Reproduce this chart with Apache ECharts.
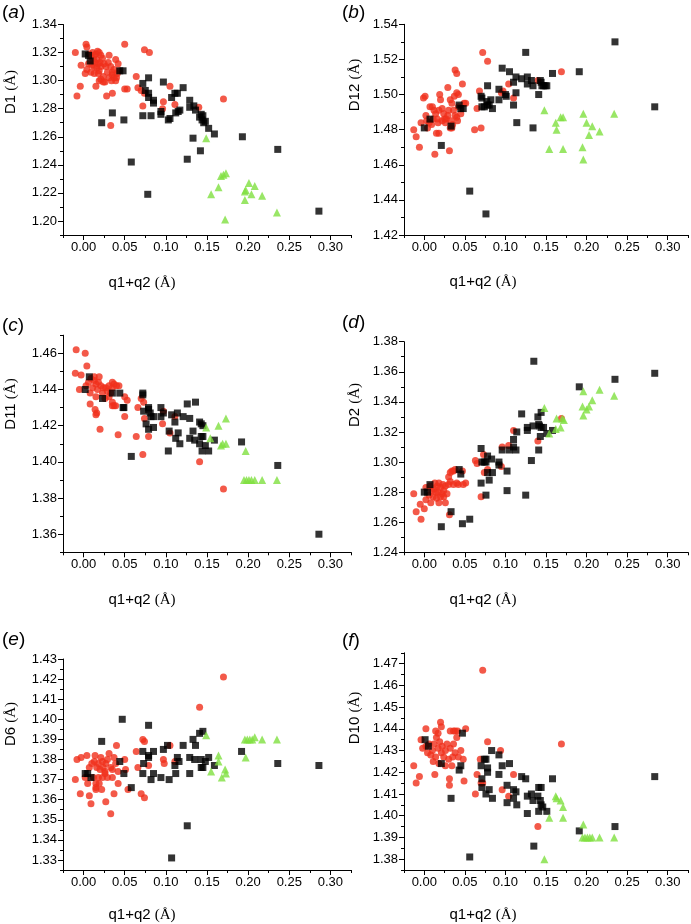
<!DOCTYPE html>
<html><head><meta charset="utf-8">
<script src="https://cdn.jsdelivr.net/npm/echarts@6/dist/echarts.min.js"></script>
<style>html,body{margin:0;padding:0;background:#fff}#c{width:691px;height:924px}</style>
</head><body><div id="c"></div>
<script>
// ---------- tick labels ----------
const xTicks = [0.00,0.05,0.10,0.15,0.20,0.25,0.30];
const aYTicks = [1.20,1.22,1.24,1.26,1.28,1.30,1.32,1.34];
const bYTicks = [1.42,1.44,1.46,1.48,1.50,1.52,1.54];
const cYTicks = [1.36,1.38,1.40,1.42,1.44,1.46];
const dYTicks = [1.24,1.26,1.28,1.30,1.32,1.34,1.36,1.38];
const eYTicks = [1.33,1.34,1.35,1.36,1.37,1.38,1.39,1.40,1.41,1.42,1.43];
const fYTicks = [1.38,1.39,1.40,1.41,1.42,1.43,1.44,1.45,1.46,1.47];

// ---------- data: [q1+q2, distance] ----------
const aRed = [[-0.010,1.320],[-0.008,1.289],[-0.004,1.296],[-0.003,1.311],[0.002,1.305],[0.003,1.326],[0.004,1.324],[0.004,1.308],[0.006,1.312],[0.007,1.319],[0.009,1.317],[0.009,1.306],[0.010,1.311],[0.011,1.320],[0.012,1.315],[0.013,1.318],[0.013,1.310],[0.014,1.313],[0.013,1.305],[0.015,1.319],[0.015,1.296],[0.016,1.315],[0.016,1.309],[0.017,1.321],[0.018,1.312],[0.018,1.305],[0.019,1.320],[0.019,1.307],[0.019,1.300],[0.020,1.313],[0.021,1.318],[0.021,1.310],[0.021,1.301],[0.023,1.316],[0.024,1.303],[0.024,1.299],[0.025,1.312],[0.026,1.299],[0.027,1.310],[0.028,1.289],[0.029,1.306],[0.030,1.313],[0.031,1.318],[0.031,1.302],[0.033,1.310],[0.033,1.268],[0.034,1.300],[0.035,1.306],[0.035,1.304],[0.035,1.291],[0.037,1.302],[0.037,1.308],[0.039,1.315],[0.039,1.300],[0.040,1.302],[0.041,1.305],[0.042,1.312],[0.043,1.307],[0.050,1.326],[0.050,1.294],[0.053,1.294],[0.064,1.303],[0.066,1.295],[0.070,1.293],[0.072,1.282],[0.074,1.291],[0.074,1.322],[0.080,1.320],[0.096,1.280],[0.097,1.285],[0.105,1.296],[0.111,1.283],[0.140,1.281],[0.170,1.287]];
const aBlack = [[0.002,1.319],[0.006,1.318],[0.008,1.314],[0.022,1.270],[0.035,1.277],[0.044,1.307],[0.048,1.307],[0.049,1.272],[0.058,1.242],[0.072,1.298],[0.072,1.275],[0.075,1.293],[0.079,1.302],[0.079,1.291],[0.079,1.288],[0.082,1.275],[0.078,1.219],[0.085,1.286],[0.085,1.284],[0.094,1.278],[0.094,1.276],[0.097,1.299],[0.103,1.272],[0.105,1.273],[0.107,1.288],[0.111,1.291],[0.114,1.291],[0.112,1.277],[0.115,1.278],[0.117,1.279],[0.121,1.295],[0.126,1.244],[0.129,1.286],[0.129,1.281],[0.133,1.259],[0.134,1.282],[0.136,1.279],[0.141,1.274],[0.142,1.250],[0.143,1.276],[0.144,1.272],[0.145,1.275],[0.146,1.270],[0.148,1.271],[0.152,1.266],[0.159,1.262],[0.193,1.260],[0.236,1.251],[0.286,1.207]];
const aGreen = [[0.149,1.259],[0.155,1.219],[0.164,1.224],[0.167,1.232],[0.170,1.233],[0.173,1.234],[0.172,1.201],[0.196,1.221],[0.197,1.222],[0.196,1.215],[0.201,1.227],[0.204,1.219],[0.208,1.225],[0.217,1.218],[0.235,1.206]];

const bRed = [[-0.013,1.480],[-0.010,1.476],[-0.006,1.470],[-0.004,1.484],[-0.001,1.498],[0.001,1.499],[0.002,1.488],[0.003,1.485],[0.004,1.481],[0.006,1.484],[0.007,1.493],[0.009,1.483],[0.010,1.493],[0.011,1.486],[0.012,1.491],[0.013,1.466],[0.014,1.489],[0.015,1.478],[0.016,1.486],[0.017,1.484],[0.018,1.478],[0.018,1.491],[0.019,1.500],[0.020,1.497],[0.022,1.492],[0.022,1.485],[0.024,1.489],[0.025,1.486],[0.026,1.484],[0.027,1.486],[0.029,1.488],[0.029,1.504],[0.030,1.491],[0.031,1.468],[0.032,1.497],[0.032,1.481],[0.033,1.485],[0.034,1.495],[0.034,1.481],[0.035,1.483],[0.036,1.491],[0.037,1.499],[0.038,1.488],[0.038,1.514],[0.040,1.487],[0.040,1.501],[0.040,1.512],[0.041,1.485],[0.042,1.500],[0.042,1.493],[0.045,1.489],[0.047,1.506],[0.049,1.495],[0.051,1.495],[0.062,1.480],[0.065,1.492],[0.068,1.502],[0.070,1.481],[0.072,1.524],[0.078,1.519],[0.095,1.501],[0.097,1.502],[0.104,1.506],[0.110,1.498],[0.140,1.508],[0.169,1.513]];
const bBlack = [[0.000,1.481],[0.007,1.486],[0.021,1.471],[0.033,1.482],[0.043,1.494],[0.045,1.492],[0.048,1.492],[0.056,1.445],[0.070,1.499],[0.071,1.498],[0.071,1.493],[0.074,1.493],[0.077,1.496],[0.078,1.505],[0.076,1.432],[0.078,1.494],[0.080,1.494],[0.082,1.497],[0.084,1.492],[0.092,1.497],[0.092,1.503],[0.096,1.515],[0.100,1.500],[0.101,1.499],[0.105,1.513],[0.110,1.507],[0.110,1.494],[0.113,1.510],[0.113,1.501],[0.114,1.484],[0.120,1.509],[0.125,1.524],[0.127,1.510],[0.127,1.506],[0.132,1.508],[0.134,1.505],[0.134,1.481],[0.141,1.500],[0.143,1.508],[0.144,1.507],[0.145,1.505],[0.147,1.505],[0.149,1.505],[0.151,1.505],[0.158,1.512],[0.191,1.513],[0.235,1.530],[0.284,1.493]];
const bGreen = [[0.148,1.491],[0.154,1.469],[0.162,1.484],[0.163,1.480],[0.168,1.487],[0.171,1.487],[0.171,1.469],[0.196,1.489],[0.195,1.470],[0.196,1.463],[0.200,1.484],[0.203,1.477],[0.207,1.482],[0.216,1.479],[0.234,1.489]];

const cRed = [[-0.010,1.449],[-0.009,1.462],[-0.005,1.440],[-0.003,1.448],[0.002,1.460],[0.003,1.442],[0.004,1.453],[0.006,1.444],[0.008,1.438],[0.008,1.432],[0.009,1.446],[0.011,1.441],[0.013,1.445],[0.013,1.447],[0.014,1.429],[0.015,1.443],[0.015,1.436],[0.015,1.426],[0.016,1.427],[0.017,1.440],[0.018,1.444],[0.019,1.447],[0.020,1.418],[0.021,1.442],[0.023,1.438],[0.024,1.441],[0.026,1.435],[0.027,1.441],[0.029,1.439],[0.031,1.442],[0.031,1.436],[0.033,1.438],[0.035,1.441],[0.035,1.444],[0.035,1.431],[0.035,1.433],[0.037,1.443],[0.037,1.431],[0.039,1.431],[0.040,1.442],[0.042,1.415],[0.043,1.442],[0.050,1.436],[0.050,1.425],[0.053,1.434],[0.064,1.414],[0.066,1.430],[0.070,1.435],[0.072,1.404],[0.073,1.433],[0.074,1.424],[0.079,1.414],[0.096,1.421],[0.097,1.428],[0.105,1.416],[0.111,1.425],[0.141,1.400],[0.170,1.385]];
const cBlack = [[0.002,1.440],[0.007,1.447],[0.023,1.435],[0.035,1.438],[0.044,1.438],[0.048,1.430],[0.049,1.430],[0.058,1.403],[0.072,1.438],[0.072,1.437],[0.073,1.428],[0.076,1.421],[0.079,1.418],[0.079,1.430],[0.079,1.429],[0.081,1.427],[0.082,1.425],[0.085,1.425],[0.085,1.419],[0.094,1.430],[0.094,1.425],[0.097,1.427],[0.103,1.406],[0.104,1.417],[0.107,1.426],[0.111,1.422],[0.112,1.413],[0.114,1.427],[0.115,1.416],[0.117,1.410],[0.121,1.425],[0.126,1.432],[0.129,1.424],[0.129,1.413],[0.133,1.417],[0.135,1.412],[0.136,1.433],[0.141,1.422],[0.143,1.421],[0.145,1.420],[0.141,1.410],[0.143,1.414],[0.145,1.414],[0.144,1.406],[0.148,1.409],[0.152,1.406],[0.159,1.412],[0.192,1.411],[0.236,1.398],[0.286,1.360]];
const cGreen = [[0.149,1.419],[0.154,1.413],[0.164,1.420],[0.167,1.409],[0.169,1.410],[0.173,1.424],[0.173,1.410],[0.197,1.406],[0.195,1.390],[0.198,1.390],[0.201,1.390],[0.204,1.390],[0.208,1.390],[0.217,1.390],[0.235,1.390]];

const dRed = [[-0.013,1.279],[-0.010,1.267],[-0.005,1.272],[-0.004,1.262],[0.000,1.269],[0.002,1.283],[0.002,1.275],[0.006,1.278],[0.007,1.284],[0.008,1.273],[0.009,1.281],[0.011,1.277],[0.012,1.282],[0.013,1.286],[0.014,1.280],[0.015,1.276],[0.016,1.284],[0.017,1.280],[0.018,1.286],[0.018,1.273],[0.020,1.283],[0.020,1.277],[0.022,1.279],[0.023,1.285],[0.024,1.281],[0.024,1.277],[0.026,1.284],[0.026,1.273],[0.028,1.279],[0.030,1.285],[0.030,1.290],[0.031,1.265],[0.032,1.287],[0.032,1.293],[0.034,1.294],[0.036,1.294],[0.036,1.285],[0.038,1.295],[0.040,1.286],[0.042,1.285],[0.047,1.294],[0.048,1.285],[0.051,1.286],[0.063,1.301],[0.065,1.299],[0.070,1.277],[0.073,1.305],[0.074,1.293],[0.078,1.295],[0.095,1.297],[0.096,1.310],[0.104,1.311],[0.110,1.321],[0.140,1.314],[0.169,1.329]];
const dBlack = [[0.000,1.280],[0.004,1.280],[0.007,1.285],[0.021,1.257],[0.033,1.267],[0.043,1.295],[0.045,1.292],[0.047,1.259],[0.056,1.262],[0.070,1.309],[0.070,1.286],[0.071,1.300],[0.074,1.300],[0.076,1.300],[0.076,1.278],[0.078,1.304],[0.078,1.293],[0.080,1.288],[0.083,1.302],[0.084,1.293],[0.092,1.300],[0.092,1.298],[0.096,1.308],[0.102,1.294],[0.102,1.281],[0.105,1.308],[0.110,1.315],[0.110,1.310],[0.113,1.308],[0.114,1.320],[0.120,1.332],[0.125,1.278],[0.127,1.323],[0.127,1.321],[0.132,1.301],[0.134,1.324],[0.135,1.367],[0.140,1.330],[0.141,1.325],[0.142,1.324],[0.141,1.308],[0.143,1.317],[0.144,1.333],[0.144,1.323],[0.147,1.323],[0.151,1.319],[0.158,1.321],[0.191,1.350],[0.235,1.355],[0.284,1.359]];
const dGreen = [[0.148,1.336],[0.154,1.319],[0.162,1.322],[0.163,1.329],[0.168,1.323],[0.170,1.329],[0.172,1.328],[0.196,1.347],[0.195,1.337],[0.196,1.331],[0.200,1.335],[0.203,1.337],[0.207,1.341],[0.216,1.348],[0.234,1.344]];

const eRed = [[-0.010,1.370],[-0.008,1.380],[-0.004,1.363],[-0.003,1.381],[0.002,1.371],[0.004,1.382],[0.005,1.368],[0.007,1.362],[0.007,1.376],[0.009,1.358],[0.010,1.378],[0.012,1.371],[0.013,1.379],[0.014,1.382],[0.015,1.366],[0.015,1.365],[0.015,1.368],[0.016,1.376],[0.018,1.378],[0.018,1.371],[0.019,1.368],[0.020,1.375],[0.021,1.381],[0.022,1.365],[0.023,1.379],[0.023,1.371],[0.024,1.376],[0.026,1.374],[0.026,1.373],[0.027,1.359],[0.027,1.378],[0.029,1.380],[0.029,1.371],[0.031,1.383],[0.033,1.376],[0.033,1.353],[0.035,1.375],[0.035,1.371],[0.037,1.381],[0.037,1.363],[0.039,1.378],[0.040,1.387],[0.042,1.374],[0.042,1.368],[0.050,1.380],[0.051,1.375],[0.054,1.365],[0.064,1.384],[0.066,1.376],[0.070,1.363],[0.072,1.390],[0.074,1.389],[0.074,1.361],[0.079,1.377],[0.097,1.380],[0.098,1.378],[0.105,1.387],[0.111,1.379],[0.141,1.406],[0.170,1.421]];
const eBlack = [[0.002,1.373],[0.005,1.373],[0.009,1.371],[0.022,1.389],[0.044,1.379],[0.047,1.400],[0.049,1.373],[0.058,1.366],[0.072,1.384],[0.072,1.373],[0.073,1.378],[0.079,1.397],[0.079,1.382],[0.079,1.381],[0.082,1.370],[0.085,1.384],[0.085,1.373],[0.094,1.371],[0.097,1.385],[0.102,1.387],[0.104,1.370],[0.107,1.331],[0.111,1.377],[0.112,1.373],[0.114,1.381],[0.116,1.379],[0.121,1.387],[0.126,1.347],[0.129,1.381],[0.129,1.373],[0.133,1.390],[0.135,1.380],[0.136,1.387],[0.141,1.393],[0.143,1.380],[0.143,1.376],[0.145,1.376],[0.145,1.394],[0.148,1.379],[0.152,1.381],[0.159,1.377],[0.192,1.384],[0.236,1.378],[0.286,1.377]];
const eGreen = [[0.149,1.392],[0.155,1.374],[0.164,1.382],[0.164,1.379],[0.168,1.371],[0.172,1.375],[0.173,1.373],[0.196,1.390],[0.197,1.381],[0.199,1.390],[0.202,1.390],[0.205,1.390],[0.208,1.391],[0.217,1.390],[0.235,1.390]];

const fRed = [[-0.013,1.423],[-0.010,1.415],[-0.006,1.418],[-0.004,1.435],[-0.002,1.431],[0.002,1.440],[0.002,1.432],[0.004,1.429],[0.006,1.433],[0.008,1.428],[0.010,1.430],[0.011,1.425],[0.012,1.433],[0.013,1.419],[0.014,1.427],[0.014,1.439],[0.015,1.436],[0.017,1.431],[0.017,1.438],[0.018,1.424],[0.019,1.434],[0.020,1.443],[0.021,1.429],[0.021,1.441],[0.022,1.432],[0.024,1.427],[0.026,1.430],[0.026,1.423],[0.028,1.433],[0.030,1.426],[0.031,1.417],[0.031,1.414],[0.032,1.431],[0.032,1.439],[0.034,1.423],[0.035,1.427],[0.036,1.433],[0.036,1.439],[0.038,1.429],[0.038,1.439],[0.040,1.436],[0.041,1.439],[0.042,1.427],[0.045,1.430],[0.048,1.426],[0.049,1.416],[0.051,1.440],[0.063,1.410],[0.065,1.419],[0.069,1.426],[0.070,1.415],[0.072,1.415],[0.072,1.467],[0.078,1.434],[0.094,1.430],[0.096,1.412],[0.104,1.409],[0.110,1.419],[0.140,1.395],[0.169,1.433]];
const fBlack = [[0.001,1.435],[0.005,1.432],[0.021,1.424],[0.033,1.408],[0.043,1.421],[0.045,1.423],[0.047,1.438],[0.056,1.381],[0.070,1.423],[0.071,1.417],[0.071,1.413],[0.074,1.426],[0.076,1.426],[0.076,1.410],[0.078,1.422],[0.078,1.420],[0.080,1.412],[0.083,1.430],[0.084,1.408],[0.092,1.428],[0.092,1.419],[0.096,1.423],[0.102,1.414],[0.102,1.406],[0.105,1.424],[0.110,1.412],[0.110,1.408],[0.113,1.411],[0.114,1.405],[0.120,1.418],[0.125,1.417],[0.127,1.409],[0.127,1.401],[0.132,1.410],[0.134,1.407],[0.135,1.386],[0.140,1.409],[0.141,1.413],[0.141,1.402],[0.143,1.407],[0.144,1.413],[0.144,1.405],[0.146,1.404],[0.151,1.402],[0.158,1.417],[0.191,1.393],[0.235,1.395],[0.284,1.418]];
const fGreen = [[0.148,1.380],[0.154,1.399],[0.162,1.409],[0.163,1.408],[0.168,1.407],[0.171,1.404],[0.171,1.399],[0.196,1.396],[0.195,1.390],[0.198,1.390],[0.201,1.390],[0.204,1.390],[0.207,1.390],[0.216,1.390],[0.234,1.390]];

const yNames = ['D1','D12','D11','D2','D6','D10'];
const letters = ['a','b','c','d','e','f'];

// ---------- layout ----------
const panels = [
  {red:aRed, black:aBlack, green:aGreen, yTicks:aYTicks, yMin:1.19, yMax:1.34, yStep:0.01, grid:{left:63, top:24.5, width:288, height:210.5}, lab:[2,3], yt:[11,92], xt:[142,283]},
  {red:bRed, black:bBlack, green:bGreen, yTicks:bYTicks, yMin:1.42, yMax:1.54, yStep:0.01, grid:{left:404, top:24.3, width:286, height:210.7}, lab:[342,3], yt:[355,85], xt:[483,282]},
  {red:cRed, black:cBlack, green:cGreen, yTicks:cYTicks, yMin:1.35, yMax:1.47, yStep:0.01, grid:{left:63, top:335.2, width:288, height:217.1}, lab:[2,316], yt:[11,404], xt:[142,600]},
  {red:dRed, black:dBlack, green:dGreen, yTicks:dYTicks, yMin:1.24, yMax:1.38, yStep:0.01, grid:{left:404, top:341.7, width:286, height:210.6}, lab:[342,313], yt:[355,405], xt:[483,600]},
  {red:eRed, black:eBlack, green:eGreen, yTicks:eYTicks, yMin:1.325, yMax:1.43, yStep:0.005, grid:{left:63, top:659, width:288, height:211}, lab:[2,630], yt:[11,724], xt:[142,915]},
  {red:fRed, black:fBlack, green:fGreen, yTicks:fYTicks, yMin:1.375, yMax:1.475, yStep:0.005, grid:{left:404, top:652.8, width:286, height:217.2}, lab:[342,631], yt:[355,718], xt:[483,915]}
];

const FONT = 'Liberation Sans, Arial, sans-serif';
const SERIF = 'Liberation Serif, Times New Roman, serif';
function fmt(ticks){
  return v => { const t = ticks.find(t => Math.abs(t - v) < 1e-7); return t === undefined ? '' : t.toFixed(2); };
}
const grids=[], xAxes=[], yAxes=[], series=[], graphics=[];
panels.forEach((p,i)=>{
  grids.push(Object.assign({containLabel:false}, p.grid));
  const lineStyle = {color:'#000', width:1};
  // main x axis (minor ticks + labels)
  xAxes.push({gridIndex:i, type:'value', position:'bottom', min:-0.025, max:0.325, interval:0.025,
    axisLine:{onZero:false, lineStyle}, axisTick:{length:3, lineStyle},
    splitLine:{show:false},
    axisLabel:{formatter:fmt(xTicks), color:'#000', fontSize:13, fontFamily:FONT, margin:6}});
  // overlay x axis (major ticks)
  xAxes.push({gridIndex:i, type:'value', position:'bottom', min:-0.025, max:0.325,
    axisLine:{show:false}, axisTick:{show:true, length:5, lineStyle, customValues:xTicks},
    axisLabel:{show:false}, splitLine:{show:false}});
  yAxes.push({gridIndex:i, type:'value', position:'left', min:p.yMin, max:p.yMax, interval:p.yStep,
    axisLine:{onZero:false, lineStyle}, axisTick:{length:3, lineStyle},
    splitLine:{show:false},
    axisLabel:{formatter:fmt(p.yTicks), color:'#000', fontSize:13, fontFamily:FONT, margin:6}});
  yAxes.push({gridIndex:i, type:'value', position:'left', min:p.yMin, max:p.yMax,
    axisLine:{show:false, onZero:false}, axisTick:{show:true, length:5, lineStyle, customValues:p.yTicks},
    axisLabel:{show:false}, splitLine:{show:false}});
  const xi = 2*i, yi = 2*i;
  series.push({type:'scatter', xAxisIndex:xi, yAxisIndex:yi, data:p.red, symbol:'circle', symbolSize:7,
    itemStyle:{color:'#f0301c'}, silent:true});
  series.push({type:'scatter', xAxisIndex:xi, yAxisIndex:yi, data:p.black, symbol:'rect', symbolSize:7,
    itemStyle:{color:'#000'}, silent:true});
  series.push({type:'scatter', xAxisIndex:xi, yAxisIndex:yi, data:p.green, symbol:'triangle', symbolSize:8,
    itemStyle:{color:'#7fe040'}, silent:true});
  // panel letter
  graphics.push({type:'text', left:p.lab[0], top:p.lab[1], style:{
    text:'{n|(}{i|'+letters[i]+'}{n|)}',
    rich:{n:{fontSize:19, fontFamily:FONT, fill:'#000'}, i:{fontSize:19, fontFamily:FONT, fontStyle:'italic', fill:'#000'}}}});
  // y title
  graphics.push({type:'text', x:p.yt[0], y:p.yt[1], rotation:Math.PI/2, style:{
    text:'{s|'+yNames[i]+' }{t|(Å)}', align:'center', verticalAlign:'middle',
    rich:{s:{fontSize:15, fontFamily:FONT, fill:'#000'}, t:{fontSize:15, fontFamily:SERIF, fill:'#000'}}}});
  // x title
  graphics.push({type:'text', x:p.xt[0], y:p.xt[1], style:{
    text:'{s|q1+q2 }{t|(Å)}', align:'center', verticalAlign:'middle',
    rich:{s:{fontSize:15, fontFamily:FONT, fill:'#000'}, t:{fontSize:15, fontFamily:SERIF, fill:'#000'}}}});
});

const chart = echarts.init(document.getElementById('c'), null, {renderer:'canvas'});
chart.setOption({
  backgroundColor:'#fff', animation:false,
  grid:grids, xAxis:xAxes, yAxis:yAxes, series, graphic:graphics
});
</script>
</body></html>
